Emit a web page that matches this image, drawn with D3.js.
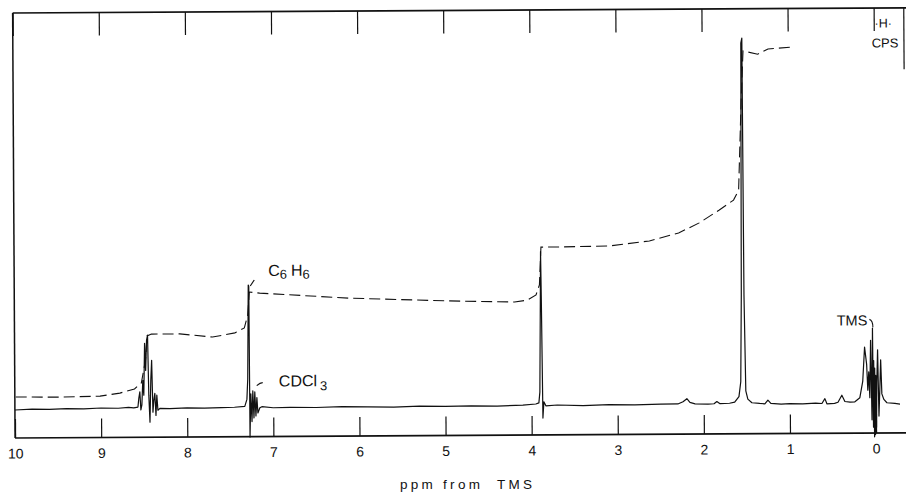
<!DOCTYPE html>
<html>
<head>
<meta charset="utf-8">
<script src="https://cdn.jsdelivr.net/npm/d3@7"></script>
<style>
  html, body { margin: 0; padding: 0; background: #fff; }
  svg { display: block; }
  text { font-family: "Liberation Sans", "DejaVu Sans", sans-serif; fill: #111; }
</style>
</head>
<body>
<svg id="chart" width="906" height="495"></svg>
<script>
// ---- data (ppm from TMS, relative intensity) ----
const spectrumPpm = [
  10.0, 9.8, 9.6, 9.4, 9.2, 9.0, 8.8, 8.68, 8.62, 8.571, 8.56, 8.548, 8.537, 8.525, 8.513, 8.502,
  8.49, 8.479, 8.467, 8.455, 8.444, 8.432, 8.42, 8.409, 8.397, 8.386, 8.374, 8.362, 8.351, 8.339,
  8.316, 8.2, 8.0, 7.8, 7.6, 7.45, 7.33, 7.305, 7.294, 7.282, 7.276, 7.271, 7.259, 7.247, 7.236,
  7.224, 7.213, 7.201, 7.189, 7.178, 7.155, 7.131, 7.0, 6.8, 6.5, 6.2, 5.9, 5.6, 5.3, 5.0, 4.7,
  4.4, 4.1, 3.95, 3.914, 3.902, 3.89, 3.885, 3.879, 3.868, 3.856, 3.833, 3.7, 3.4, 3.1, 2.8, 2.5,
  2.3, 2.24, 2.195, 2.16, 2.1, 1.95, 1.88, 1.847, 1.81, 1.7, 1.64, 1.59, 1.568, 1.556, 1.545,
  1.533, 1.525, 1.51, 1.487, 1.44, 1.35, 1.29, 1.254, 1.22, 1.1, 1.0, 0.85, 0.7, 0.627, 0.592,
  0.569, 0.48, 0.44, 0.395, 0.36, 0.3, 0.244, 0.186, 0.151, 0.128, 0.105, 0.093, 0.081, 0.07,
  0.058, 0.046, 0.035, 0.029, 0.023, 0.017, 0.012, 0.006, 0.0, -0.006, -0.012, -0.023, -0.035,
  -0.046, -0.058, -0.07, -0.093, -0.128, -0.221, -0.28
];
const spectrumIntensity = [
  0.0, 0.2, 0.1, 0.3, 0.2, 0.4, 0.3, 0.5, 0.4, 0.6, 3.0, 4.7, -0.2, 1.2, 7.8, 3.8,
  17.8, 10.5, 18.6, 20.0, 3.8, -3.5, 7.8, 13.2, -0.8, 2.4, 4.3, -1.7, 3.8, -0.3,
  0.2, 0.1, 0.3, 0.2, 0.3, 0.4, 0.6, 2.5, 8.0, 33.4, 33.0, -7.7, 4.0, -3.5, 4.8,
  -2.5, 4.5, -2.0, 3.0, -1.2, 0.2, 0.5, 0.2, 0.3, 0.2, 0.4, 0.3, 0.2, 0.4, 0.3, 0.4,
  0.3, 0.5, 0.8, 1.1, 4.0, 30, 42, 29, -3.0, 1.4, 0.3, 0.5, 0.3, 0.5, 0.4, 0.6,
  0.6, 1.2, 2.0, 1.0, 0.6, 0.5, 0.6, 1.2, 0.6, 0.7, 1.0, 2.5, 6.5, 30, 98,
  99.4, 30, 4.0, 1.8, 0.8, 0.6, 0.5, 1.5, 0.6, 0.4, 0.5, 0.4, 0.6, 0.5, 1.8,
  0.4, 0.5, 0.8, 2.7, 1.0, 0.8, 0.9, 2.0, 6.5, 15.7, 11.0, 4.0, 9.0, 2.0,
  17.5, -4, 20.8, -6, 12, -8.6, 10, -8, 8, -6, 6, 14.9, -3,
  4.0, 12.2, 3.0, 1.5, 0.6, 0.4, 0.2
];
const integralPpm = [
  9.99, 9.48, 9.01, 8.78, 8.61, 8.53, 8.48, 8.46, 8.41, 8.08, 7.70, 7.44, 7.33, 7.29, 7.27,
  7.15, 6.11, 4.95, 4.19, 4.04, 3.94, 3.90, 3.88, 3.67, 3.09, 2.62, 2.28, 2.04, 1.81, 1.64,
  1.58, 1.545, 1.52, 1.35, 1.23, 0.92
];
const integralValue = [
  3.5, 3.4, 3.6, 4.4, 5.5, 7.1, 13.3, 19.8, 20.3, 20.3, 19.4, 20.5, 21.8, 25.3, 31.5,
  31.2, 29.7, 28.8, 28.4, 28.9, 30.3, 33.0, 43.2, 43.2, 43.4, 44.7, 46.8, 49.5, 52.9, 55.6,
  58.3, 82.6, 95.9, 95.0, 96.4, 96.9
];
const tickValues = [10, 9, 8, 7, 6, 5, 4, 3, 2, 1, 0];
const tickLabels = ["10", "9", "8", "7", "6", "5", "4", "3", "2", "1", "0"];
const axisTitle = "ppm from  TMS";

// ---- scales ----
const x = d3.scaleLinear().domain([10, 0]).range([15, 876]);
const y = d3.scaleLinear().domain([0, 100]).range([407.5, 37.5]);
const rightEdgePpm = -0.35;
const topY = 10.5, bottomY = 435.5;

const svg = d3.select("#chart");
svg.append("rect").attr("width", 906).attr("height", 495).attr("fill", "#fff");

// the paper is very slightly tilted
const g = svg.append("g").attr("transform", "rotate(-0.33,445,422)");
const ink = "#111";

// frame
const frame = g.append("g").attr("stroke", ink).attr("fill", "none");
frame.append("line").attr("x1", x(10)).attr("x2", x(rightEdgePpm) + 4)
  .attr("y1", topY).attr("y2", topY).attr("stroke-width", 1.6);
frame.append("line").attr("x1", x(10)).attr("x2", x(rightEdgePpm) + 4)
  .attr("y1", bottomY).attr("y2", bottomY).attr("stroke-width", 1.6);
frame.append("line").attr("x1", x(10)).attr("x2", x(10))
  .attr("y1", topY).attr("y2", bottomY).attr("stroke-width", 1.5);
frame.append("line").attr("x1", x(rightEdgePpm)).attr("x2", x(rightEdgePpm))
  .attr("y1", topY).attr("y2", 72).attr("stroke-width", 1.2);

// bottom axis (ticks pointing up into the plot)
const labelOf = v => tickLabels[tickValues.indexOf(v)];
const bottomAxis = d3.axisBottom(x).tickValues(tickValues).tickFormat(labelOf)
  .tickSizeInner(-19).tickSizeOuter(0).tickPadding(10.5);
const ba = g.append("g").attr("transform", `translate(0,${bottomY})`).call(bottomAxis);
ba.select(".domain").remove();
ba.selectAll(".tick line").attr("stroke", ink).attr("stroke-width", 1.2);
ba.selectAll(".tick text").attr("font-size", 14).attr("fill", ink)
  .style("font-family", '"Liberation Sans", sans-serif');

// top axis (ticks pointing down)
const topAxis = d3.axisTop(x).tickValues(tickValues).tickFormat(() => "")
  .tickSizeInner(-23).tickSizeOuter(0);
const ta = g.append("g").attr("transform", `translate(0,${topY})`).call(topAxis);
ta.select(".domain").remove();
ta.selectAll(".tick line").attr("stroke", ink).attr("stroke-width", 1.2);

// spectrum trace
const spectrum = spectrumPpm.map((p, i) => [p, spectrumIntensity[i]]);
const line = d3.line().x(d => x(d[0])).y(d => y(d[1]));
g.append("path").datum(spectrum).attr("d", line)
  .attr("fill", "none").attr("stroke", ink).attr("stroke-width", 1.2)
  .attr("stroke-linejoin", "round");

// integral trace (dashed)
const integral = integralPpm.map((p, i) => [p, integralValue[i]]);
g.append("path").datum(integral).attr("d", line)
  .attr("fill", "none").attr("stroke", ink).attr("stroke-width", 1.1)
  .attr("stroke-dasharray", "11,5");

// annotations
const ann = g.append("g");
// C6H6
const c6 = ann.append("text").attr("x", x(7.27) + 19).attr("y", y(33.4) - 9).attr("font-size", 16);
c6.append("tspan").text("C");
c6.append("tspan").attr("font-size", 13).attr("dy", 3).text("6");
c6.append("tspan").attr("dy", -3).attr("dx", 4).text("H");
c6.append("tspan").attr("font-size", 13).attr("dy", 3).text("6");
ann.append("path")
  .attr("d", `M${x(7.27) + 1},${y(33.4) + 1} L${x(7.27) + 5},${y(33.4) - 5}`)
  .attr("stroke", ink).attr("stroke-width", 1.2).attr("fill", "none");
// CDCl3
const cd = ann.append("text").attr("x", x(7.27) + 29).attr("y", y(0) - 22).attr("font-size", 16);
cd.append("tspan").text("CDCl");
cd.append("tspan").attr("font-size", 13).attr("dy", 4).attr("dx", 3).text("3");
ann.append("path")
  .attr("d", `M${x(7.19)},${y(0) - 23} Q${x(7.15)},${y(0) - 26} ${x(7.12)},${y(0) - 26}`)
  .attr("stroke", ink).attr("stroke-width", 1.2).attr("fill", "none");
// TMS
ann.append("text").attr("x", x(0.45)).attr("y", y(21) - 2).attr("font-size", 14.5).text("TMS");
ann.append("path")
  .attr("d", `M${x(0.07)},${y(21) - 8} Q${x(0.03)},${y(21) - 7} ${x(0.03)},${y(21)}`)
  .attr("stroke", ink).attr("stroke-width", 1.1).attr("fill", "none");
// H / CPS
ann.append("text").attr("x", x(-0.11)).attr("y", 30).attr("text-anchor", "middle")
  .attr("font-size", 12.5).text("·H·");
ann.append("text").attr("x", x(-0.13)).attr("y", 50).attr("text-anchor", "middle")
  .attr("font-size", 13).text("CPS");

// axis title
svg.append("text").attr("x", 466).attr("y", 489).attr("text-anchor", "middle")
  .attr("font-size", 13.5).attr("textLength", 132).attr("lengthAdjust", "spacing")
  .attr("xml:space", "preserve").style("white-space", "pre")
  .text(axisTitle);
</script>
</body>
</html>
